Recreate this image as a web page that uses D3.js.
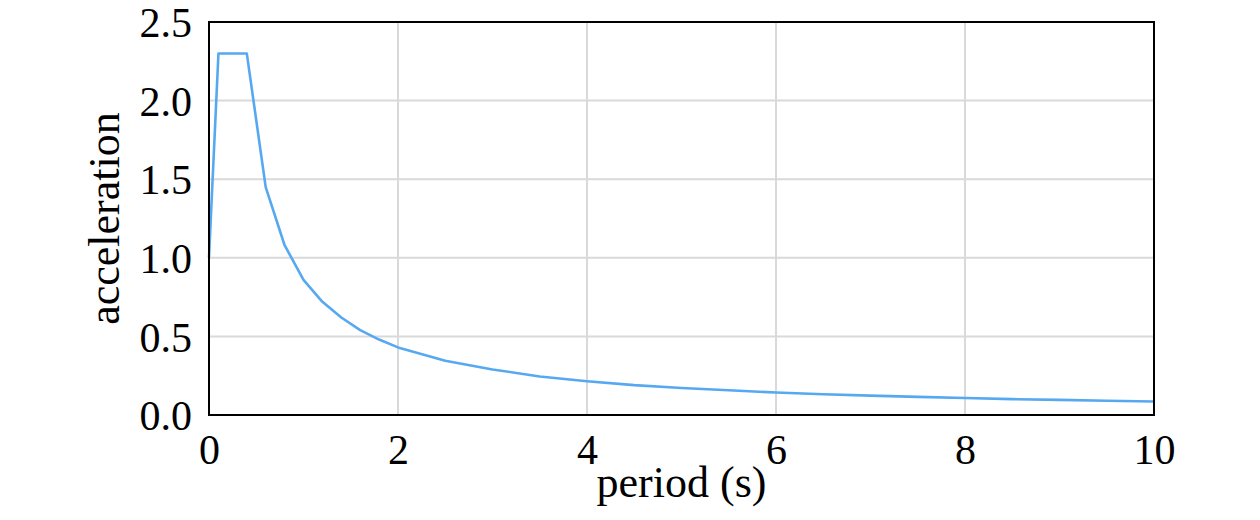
<!DOCTYPE html>
<html>
<head>
<meta charset="utf-8">
<script src="https://cdn.jsdelivr.net/npm/d3@7"></script>
<style>
  html, body { margin: 0; padding: 0; background: #fff; }
  svg { display: block; }
</style>
</head>
<body>
<svg id="chart" width="1260" height="520"></svg>
<script>
const periods = [0, 0.1, 0.4, 0.6, 0.8, 1.0, 1.2, 1.4, 1.6, 1.8, 2.0, 2.5, 3.0, 3.5, 4.0, 4.5, 5.0, 5.5, 6.0, 6.5, 7.0, 7.5, 8.0, 8.5, 9.0, 9.5, 10.0];
const accelerations = [1.0, 2.3, 2.3, 1.45, 1.08, 0.86, 0.72, 0.62, 0.54, 0.48, 0.43, 0.345, 0.29, 0.245, 0.215, 0.19, 0.172, 0.157, 0.143, 0.132, 0.123, 0.115, 0.108, 0.101, 0.096, 0.091, 0.086];
const xTicks = [0, 2, 4, 6, 8, 10];
const yTicks = [0, 0.5, 1.0, 1.5, 2.0, 2.5];
const xTitle = "period (s)";
const yTitle = "acceleration";

(function () {
const svg = d3.select("#chart");
const pL = 209, pR = 1154, pT = 22, pB = 415;
const x = d3.scaleLinear().domain([0, 10]).range([pL, pR]);
const y = d3.scaleLinear().domain([0, 2.5]).range([pB, pT]);
const font = "'Liberation Serif', 'Times New Roman', serif";

// gridlines
svg.append("g").selectAll("line").data(xTicks.slice(1, -1)).join("line")
  .attr("x1", d => x(d)).attr("x2", d => x(d)).attr("y1", pT).attr("y2", pB)
  .attr("stroke", "#d9d9d9").attr("stroke-width", 2);
svg.append("g").selectAll("line").data(yTicks.slice(1, -1)).join("line")
  .attr("y1", d => y(d)).attr("y2", d => y(d)).attr("x1", pL).attr("x2", pR)
  .attr("stroke", "#d9d9d9").attr("stroke-width", 2);

// line
const pts = periods.map((p, i) => [p, accelerations[i]]);
svg.append("path").datum(pts)
  .attr("fill", "none").attr("stroke", "#56a9f1").attr("stroke-width", 2.6)
  .attr("stroke-linejoin", "round")
  .attr("d", d3.line().x(d => x(d[0])).y(d => y(d[1])));

// frame
svg.append("rect").attr("x", pL).attr("y", pT).attr("width", pR - pL).attr("height", pB - pT)
  .attr("fill", "none").attr("stroke", "#000").attr("stroke-width", 2);

// x axis labels
const xAxis = d3.axisBottom(x).tickValues(xTicks).tickSize(0).tickPadding(0).tickFormat(d3.format("d"));
const gx = svg.append("g").attr("transform", `translate(0,${pB})`).call(xAxis);
gx.select(".domain").remove();
gx.selectAll("text").attr("font-family", font).attr("font-size", 42).attr("fill", "#000")
  .attr("dy", null).attr("y", 49);

const yAxis = d3.axisLeft(y).tickValues(yTicks).tickSize(0).tickPadding(17).tickFormat(d3.format(".1f"));
const gy = svg.append("g").attr("transform", `translate(${pL},0)`).call(yAxis);
gy.select(".domain").remove();
gy.selectAll("text").attr("font-family", font).attr("font-size", 42).attr("fill", "#000")
  .attr("dy", "0.35em");

// titles
svg.append("text").attr("x", (pL + pR) / 2).attr("y", 497)
  .attr("text-anchor", "middle").attr("font-family", font).attr("font-size", 44).attr("fill", "#000")
  .text(xTitle);
svg.append("text").attr("transform", `translate(119,${(pT + pB) / 2}) rotate(-90)`)
  .attr("text-anchor", "middle").attr("font-family", font).attr("font-size", 44).attr("fill", "#000")
  .text(yTitle);
})();
</script>
</body>
</html>
